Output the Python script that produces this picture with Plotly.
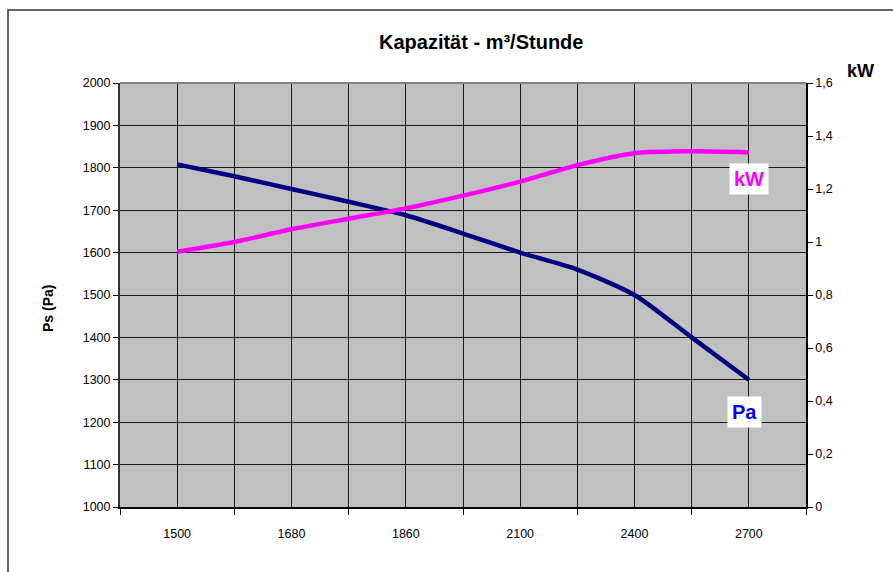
import numpy as np
import plotly.graph_objects as go

# ---- data ----
capacity_labels = ["1500", "1680", "1860", "2100", "2400", "2700"]
# readings at every half step between the labelled capacities
pa_values = [1808, 1780, 1750, 1720, 1688, 1645, 1600, 1560, 1500, 1400, 1300]
kw_values = [0.963, 1.0, 1.048, 1.088, 1.127, 1.175, 1.228, 1.29, 1.335, 1.342, 1.338]
pa_ticks = list(range(1000, 2001, 100))
kw_ticks = [0, 0.2, 0.4, 0.6, 0.8, 1.0, 1.2, 1.4, 1.6]

x_pos = np.arange(len(pa_values)) / 2.0
label_pos = np.arange(len(capacity_labels))
boundary_pos = np.arange(len(capacity_labels) + 1) - 0.5

FONT = "Liberation Sans, Arial, sans-serif"

fig = go.Figure()
fig.add_trace(go.Scatter(
    x=x_pos, y=pa_values, mode="lines", name="Pa",
    line=dict(color="#000080", width=4.5, shape="spline", smoothing=0.7),
    yaxis="y", showlegend=False, hoverinfo="skip"))
fig.add_trace(go.Scatter(
    x=x_pos, y=kw_values, mode="lines", name="kW",
    line=dict(color="#FF00FF", width=4.5, shape="spline", smoothing=0.7),
    yaxis="y2", showlegend=False, hoverinfo="skip"))

W, H = 893, 572
L, R, T, B = 120, 87, 83, 65
pw, ph = W - L - R, H - T - B

def px(x):
    return (x - L) / pw

def py(y):
    return (H - B - y) / ph

fig.update_layout(
    width=W, height=H,
    margin=dict(l=L, r=R, t=T, b=B),
    paper_bgcolor="white", plot_bgcolor="#C0C0C0",
    separators=",.",
    font=dict(family=FONT, size=12, color="#000"),
    xaxis=dict(
        range=[boundary_pos[0], boundary_pos[-1]],
        tickvals=label_pos, ticktext=capacity_labels,
        ticks="", showgrid=True, gridcolor="#1a1a1a", gridwidth=1,
        showline=True, linecolor="#000", linewidth=1.5,
        zeroline=False, tickfont=dict(size=12.5), ticklabelstandoff=14,
        minor=dict(tickvals=boundary_pos, ticks="outside", ticklen=6,
                   tickcolor="#000", tickwidth=1,
                   showgrid=True, gridcolor="#1a1a1a", gridwidth=1),
    ),
    yaxis=dict(
        range=[pa_ticks[0], pa_ticks[-1]], tickvals=pa_ticks,
        ticks="outside", ticklen=5, tickcolor="#000",
        showgrid=True, gridcolor="#1a1a1a", gridwidth=1,
        showline=True, linecolor="#333", linewidth=2,
        zeroline=False, tickfont=dict(size=12.5),
    ),
    yaxis2=dict(
        overlaying="y", side="right",
        range=[kw_ticks[0], kw_ticks[-1]], tickvals=kw_ticks,
        ticks="outside", ticklen=5, tickcolor="#000",
        showgrid=False, showline=True, linecolor="#000", linewidth=1.5,
        zeroline=False, tickfont=dict(size=12.5),
    ),
    shapes=[
        dict(type="line", xref="paper", yref="paper", x0=0, x1=1, y0=1, y1=1,
             line=dict(color="#808080", width=2), layer="above"),
        dict(type="rect", xref="paper", yref="paper",
             x0=px(8), x1=px(902), y0=py(10), y1=py(582),
             line=dict(color="#333", width=1.5), layer="above"),
    ],
    annotations=[
        dict(text="<b>Kapazität - m³/Stunde</b>", xref="paper", yref="paper",
             x=px(481), y=py(42), xanchor="center", yanchor="middle",
             showarrow=False, font=dict(size=20, family=FONT)),
        dict(text="<b>kW</b>", xref="paper", yref="paper",
             x=px(860), y=py(71), xanchor="center", yanchor="middle",
             showarrow=False, font=dict(size=18, family=FONT)),
        dict(text="<b>Ps (Pa)</b>", xref="paper", yref="paper",
             x=px(48), y=py(309), xanchor="center", yanchor="middle",
             textangle=-90, showarrow=False, font=dict(size=14, family=FONT)),
        dict(text="<b>kW</b>", xref="x", yref="y2",
             x=x_pos[-1], y=kw_values[-1], yshift=-27,
             xanchor="center", yanchor="middle", showarrow=False,
             bgcolor="white", borderpad=4,
             font=dict(size=20, color="#FF00FF", family=FONT)),
        dict(text="<b>Pa</b>", xref="x", yref="y",
             x=x_pos[-1], y=pa_values[-1], yshift=-32, xshift=-4,
             xanchor="center", yanchor="middle", showarrow=False,
             bgcolor="white", borderpad=4,
             font=dict(size=20, color="#0000FF", family=FONT)),
    ],
)

fig.write_html(
    "out.html",
    config={"displayModeBar": False},
    post_script="document.body.style.margin='0';document.body.style.overflow='hidden';",
)
